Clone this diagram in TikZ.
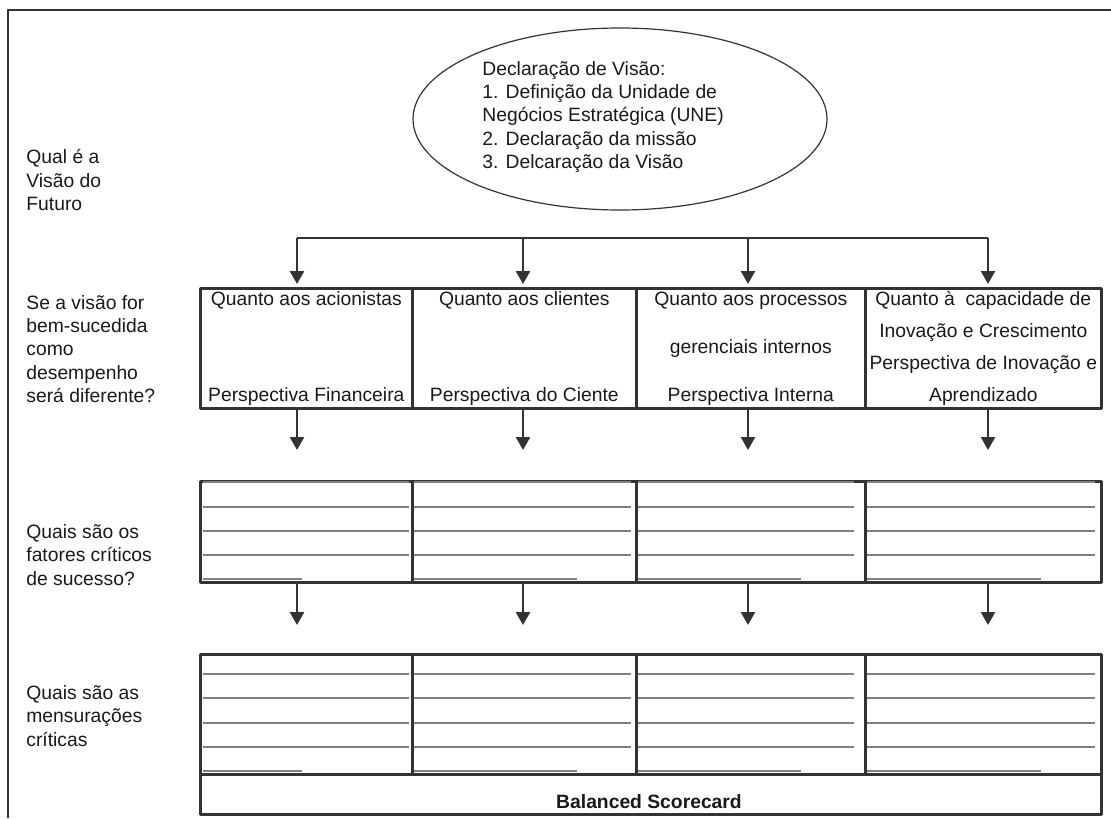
\documentclass[tikz,border=0pt]{standalone}
\usepackage{fontspec}
\setmainfont{Liberation Sans}
\usetikzlibrary{shapes.geometric,arrows.meta}
\begin{document}
\begin{tikzpicture}[x=0.5pt, y=-0.5pt, line join=round, >={Triangle[length=6.5pt,width=7pt]},
  font=\fontsize{9.65}{11.6}\selectfont, text=black!90,
  frame/.style={draw=black!80, line width=1.2pt},
  cell/.style={draw=black!80, line width=1.3pt, anchor=north west, inner sep=0pt, align=center},
  question/.style={anchor=west, align=left, inner sep=0pt},
  fillline/.style={draw=black!50, line width=1.3pt},
  conn/.style={draw=black!80, line width=1.3pt}]
\useasboundingbox (0,0) rectangle (1111,818);
\draw[frame] (8,818) -- (8,10) -- (1111,10);
\node[draw=black!80, line width=0.6pt, ellipse, minimum width=207pt, minimum height=91pt, inner sep=0pt] (vis) at (620,119) {};
\node[anchor=west, align=left, inner sep=0pt] (vistext) at (482,117) {Declaração de Visão:\\1. Definição da Unidade de\\Negócios Estratégica (UNE)\\2. Declaração da missão\\3. Delcaração da Visão};
\node[question] (q1) at (26,180) {Qual é a\\Visão do\\Futuro};
\node[question] (q2) at (26,349) {Se a visão for\\bem-sucedida\\como\\desempenho\\será diferente?};
\node[question] (q3) at (26,555) {Quais são os\\fatores críticos\\de sucesso?};
\node[question] (q4) at (26,716) {Quais são as\\mensurações\\críticas};
\node[cell, minimum width=106pt, minimum height=60pt] (p1) at (199,287) {Quanto aos acionistas\\[36.4pt]Perspectiva Financeira};
\node[cell, minimum width=112pt, minimum height=60pt] (p2) at (411,287) {Quanto aos clientes\\[36.4pt]Perspectiva do Ciente};
\node[cell, minimum width=114.5pt, minimum height=60pt] (p3) at (635,287) {Quanto aos processos\\[12.4pt]gerenciais internos\\[12.4pt]Perspectiva Interna};
\node[cell, minimum width=118pt, minimum height=60pt] (p4) at (864,287) {Quanto à~ capacidade de\\[4.3pt]Inovação e Crescimento\\[4.3pt]Perspectiva de Inovação e\\[4.3pt]Aprendizado};
\foreach \i/\xa/\xb in {1/199/411,2/411/635,3/635/864,4/864/1100} {
  \node[cell, minimum width={(\xb-\xa)*0.5pt}, minimum height=50.5pt] (c\i) at (\xa,480) {};
  \node[cell, minimum width={(\xb-\xa)*0.5pt}, minimum height=60pt] (m\i) at (\xa,653) {};
}
\node[cell, minimum width=450.5pt, minimum height=20pt] (bsc) at (199,773) {};
\node[font=\fontsize{9.65}{11.6}\selectfont\bfseries] (bsclabel) at (649,802) {Balanced Scorecard};
\foreach \xa/\xb/\xs in {203/409/302,414/631/577,638/854/801,867/1095/1041} {
  \foreach \y in {482,507,531,555,674,698,723,747} \draw[fillline] (\xa,\y) -- (\xb,\y);
  \draw[fillline] (\xa,579) -- (\xs,579) (\xa,771) -- (\xs,771);
}
\coordinate (a1) at (297,238);
\coordinate (a2) at (523,238);
\coordinate (a3) at (748,238);
\coordinate (a4) at (988,238);
\draw[conn, line width=0.9pt] (a1) -- (a4);
\foreach \i in {1,...,4} {
  \draw[conn,->,shorten >=1.5pt] (a\i) -- (a\i|-p\i.north);
  \draw[conn,->,shorten >=15pt] (a\i|-p\i.south) -- (a\i|-c\i.north);
  \draw[conn,->,shorten >=14pt] (a\i|-c\i.south) -- (a\i|-m\i.north);
}
\end{tikzpicture}
\end{document}
